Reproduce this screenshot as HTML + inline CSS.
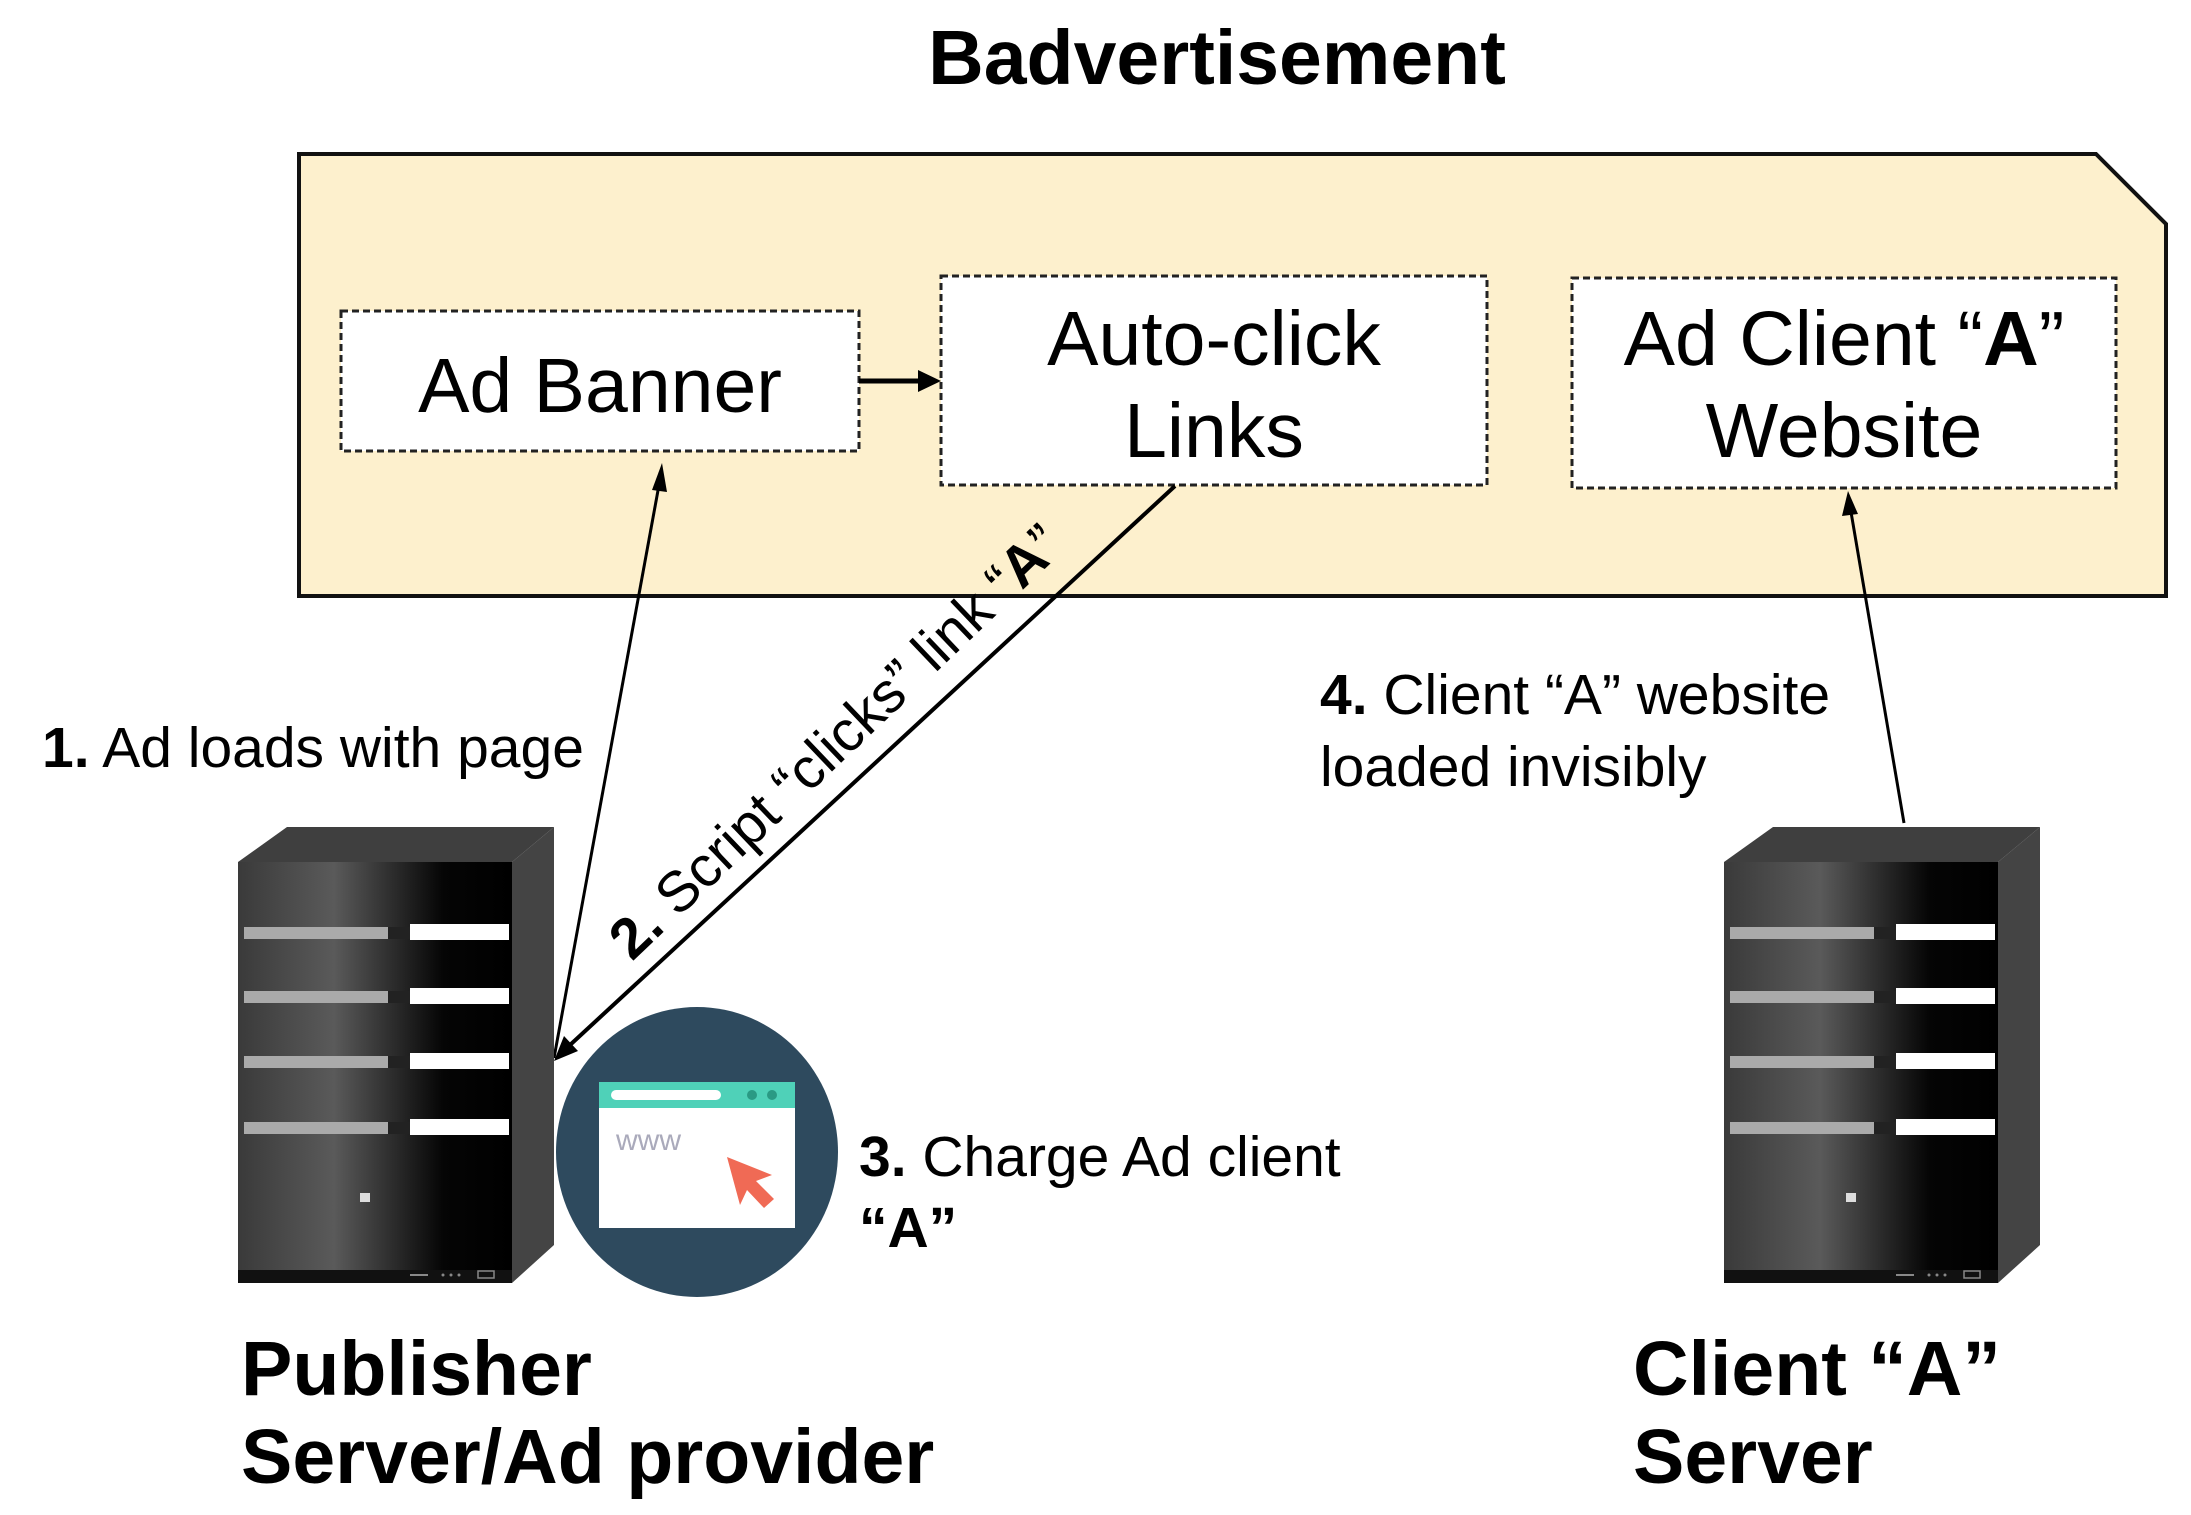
<!DOCTYPE html>
<html><head><meta charset="utf-8"><style>
html,body{margin:0;padding:0;background:#fff;}
svg{display:block;}
text{font-family:"Liberation Sans",Arial,sans-serif;fill:#000;}
</style></head><body>
<svg width="2191" height="1515" viewBox="0 0 2191 1515" xmlns="http://www.w3.org/2000/svg">
<defs>
<linearGradient id="fg" x1="0" x2="1" y1="0" y2="0">
<stop offset="0" stop-color="#3a3a3a"/><stop offset="0.35" stop-color="#5a5a5a"/><stop offset="0.75" stop-color="#050505"/><stop offset="1" stop-color="#000"/>
</linearGradient>
<g id="srv">
<polygon points="0,35 49,0 316,0 274,35" fill="#3f3f3f"/>
<polygon points="274,35 316,0 316,418 274,456" fill="#444"/>
<rect x="0" y="35" width="274" height="421" fill="url(#fg)"/>
<g id="bay">
<polygon points="6,100 160,100 150,112 6,112" fill="#aaa"/>
<rect x="150" y="100" width="22" height="12" fill="#222"/>
<rect x="172" y="97" width="99" height="16" fill="#fff"/>
</g>
<use href="#bay" y="64"/><use href="#bay" y="129"/><use href="#bay" y="195"/>
<rect x="0" y="443" width="274" height="13" fill="#111"/>
<rect x="122" y="366" width="10" height="9" fill="#ddd"/>
<rect x="172" y="447" width="18" height="2" fill="#888"/>
<circle cx="205" cy="448" r="1.5" fill="#888"/><circle cx="213" cy="448" r="1.5" fill="#888"/><circle cx="221" cy="448" r="1.5" fill="#888"/>
<rect x="240" y="444" width="16" height="7" fill="none" stroke="#888" stroke-width="1.5"/>
</g>
</defs>

<text x="1217" y="84" font-size="77" font-weight="bold" text-anchor="middle">Badvertisement</text>

<polygon points="299,154 2096,154 2166,224 2166,596 299,596" fill="#fdf0cd" stroke="#111" stroke-width="4"/>

<rect x="341" y="311" width="518" height="140" fill="#fff" stroke="#222" stroke-width="3" stroke-dasharray="7,4"/>
<rect x="941" y="276" width="546" height="209" fill="#fff" stroke="#222" stroke-width="3" stroke-dasharray="7,4"/>
<rect x="1572" y="278" width="544" height="210" fill="#fff" stroke="#222" stroke-width="3" stroke-dasharray="7,4"/>

<text x="600" y="412" font-size="77" text-anchor="middle">Ad Banner</text>
<text x="1214" y="365" font-size="77" text-anchor="middle">Auto-click</text>
<text x="1214" y="457" font-size="77" text-anchor="middle">Links</text>
<text x="1844" y="365" font-size="77" text-anchor="middle">Ad Client “<tspan font-weight="bold">A</tspan>”</text>
<text x="1844" y="457" font-size="77" text-anchor="middle">Website</text>

<line x1="859" y1="381" x2="922" y2="381" stroke="#000" stroke-width="5"/>
<polygon points="941,381 918,370 918,392" fill="#000"/>

<line x1="554" y1="1058" x2="659" y2="485" stroke="#000" stroke-width="3"/>
<polygon points="662,463 652,490 667,492" fill="#000"/>
<line x1="1175" y1="486" x2="570" y2="1045" stroke="#000" stroke-width="4"/>
<polygon points="554,1061 564,1036 578,1051" fill="#000"/>
<line x1="1904" y1="823" x2="1851" y2="512" stroke="#000" stroke-width="3"/>
<polygon points="1848,491 1842,516 1858,514" fill="#000"/>

<text x="42" y="767" font-size="57"><tspan font-weight="bold">1.</tspan> Ad loads with page</text>
<text transform="translate(632,962) rotate(-43.6)" font-size="57"><tspan font-weight="bold">2.</tspan> Script “clicks” link “<tspan font-weight="bold">A</tspan>”</text>
<text x="1320" y="714" font-size="57"><tspan font-weight="bold">4.</tspan> Client “A” website</text>
<text x="1320" y="786" font-size="57">loaded invisibly</text>
<text x="859" y="1176" font-size="57"><tspan font-weight="bold">3.</tspan> Charge Ad client</text>
<text x="859" y="1247" font-size="57" font-weight="bold">“A”</text>

<use href="#srv" x="238" y="827"/>
<use href="#srv" x="1724" y="827"/>

<ellipse cx="697" cy="1152" rx="141" ry="145" fill="#2e4a5e"/>
<rect x="599" y="1082" width="196" height="146" fill="#fff"/>
<rect x="599" y="1082" width="196" height="26" fill="#4fd1b8"/>
<rect x="611" y="1090" width="110" height="10" rx="5" fill="#fff"/>
<circle cx="752" cy="1095" r="5" fill="#2a9a84"/><circle cx="772" cy="1095" r="5" fill="#2a9a84"/>
<text x="616" y="1150" font-size="30" style="fill:#aab">www</text>
<polygon points="727,1157 772,1175 756,1181 774,1199 764,1208 747,1190 740,1205" fill="#f06a55"/>

<text x="241" y="1395" font-size="77" font-weight="bold">Publisher</text>
<text x="241" y="1483" font-size="77" font-weight="bold">Server/Ad provider</text>
<text x="1633" y="1395" font-size="77" font-weight="bold">Client “A”</text>
<text x="1633" y="1483" font-size="77" font-weight="bold">Server</text>
</svg>
</body></html>
